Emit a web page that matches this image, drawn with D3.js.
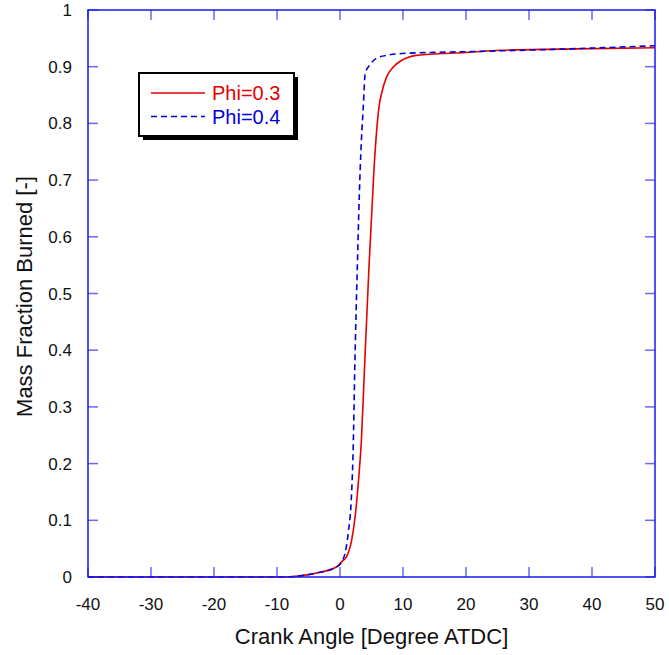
<!DOCTYPE html>
<html>
<head>
<meta charset="utf-8">
<script src="https://cdn.jsdelivr.net/npm/d3@7"></script>
<style>
    body { margin: 0; background: #fff; }
    text { font-family: "Liberation Sans", Arial, sans-serif; }
</style>
</head>
<body>
<div id="canvas"></div>
<script>
"use strict"

// DATA - values

let xTicks = [-40, -30, -20, -10, 0, 10, 20, 30, 40, 50];
let yTicks = [0, 0.1, 0.2, 0.3, 0.4, 0.5, 0.6, 0.7, 0.8, 0.9, 1];

let seriesNames = ["Phi=0.3", "Phi=0.4"];

// Phi=0.3 (red solid)
let phi03Angle = [-40, -10, -8, -6.3, -3.7, -0.5, 0.26, 1.05, 1.85, 2.4, 2.9, 3.4, 3.9, 4.6, 5.4, 5.8, 6.2, 6.6, 7.4, 8.5, 9.9, 12.1, 14.3, 20, 25.4, 35, 50];
let phi03Mfb = [0, 0, 0.0005, 0.002, 0.007, 0.018, 0.027, 0.036, 0.065, 0.106, 0.165, 0.242, 0.371, 0.547, 0.72, 0.785, 0.83, 0.853, 0.882, 0.9, 0.912, 0.92, 0.922, 0.925, 0.929, 0.931, 0.9335];

// Phi=0.4 (blue dashed)
let phi04Angle = [-40, -10, -8, -6.3, -3.7, -0.5, 0.3, 0.8, 1.3, 1.85, 2.1, 2.35, 2.75, 3.2, 3.4, 3.7, 4.0, 4.8, 5.8, 7.9, 11.1, 14.3, 25.7, 35, 50];
let phi04Mfb = [0, 0, 0.0005, 0.002, 0.007, 0.018, 0.027, 0.042, 0.077, 0.15, 0.23, 0.371, 0.547, 0.718, 0.771, 0.83, 0.888, 0.904, 0.915, 0.921, 0.924, 0.925, 0.928, 0.931, 0.937];


// CANVAS SETUP

let svgWidth = 669;
let svgHeight = 655;

let leftMargin = 88;
let rightMargin = 14;
let topMargin = 10;
let bottomMargin = 78; // plot area is 88..655 by 10..577

let tickLength = 10;

let svg = d3.select("#canvas")
    .append("svg")
    .attr("width", svgWidth)
    .attr("height", svgHeight);


// SCALES

let xScale = d3.scaleLinear()
    .domain([-40, 50])
    .range([leftMargin, svgWidth - rightMargin]);

let yScale = d3.scaleLinear()
    .domain([0, 1])
    .range([svgHeight - bottomMargin, topMargin]);

let x0 = xScale(-40), x1 = xScale(50);
let y0 = yScale(0), y1 = yScale(1);


// TICKS - drawn inward on all four sides

let tickColor = "#6a6af0";

let tickGroup = svg.append("g")
    .attr("stroke", tickColor)
    .attr("stroke-width", 1.5);

xTicks.forEach(function (t) {
    tickGroup.append("line") // bottom
        .attr("x1", xScale(t)).attr("x2", xScale(t))
        .attr("y1", y0).attr("y2", y0 - tickLength);
    tickGroup.append("line") // top
        .attr("x1", xScale(t)).attr("x2", xScale(t))
        .attr("y1", y1).attr("y2", y1 + tickLength);
});

yTicks.forEach(function (t) {
    tickGroup.append("line") // left
        .attr("x1", x0).attr("x2", x0 + tickLength)
        .attr("y1", yScale(t)).attr("y2", yScale(t));
    tickGroup.append("line") // right
        .attr("x1", x1).attr("x2", x1 - tickLength)
        .attr("y1", yScale(t)).attr("y2", yScale(t));
});


// TICK LABELS

xTicks.forEach(function (t) {
    svg.append("text")
        .attr("x", xScale(t))
        .attr("y", y0 + 33)
        .style("text-anchor", "middle")
        .style("font-size", "17px")
        .attr("fill", "#111")
        .text(t);
});

yTicks.forEach(function (t) {
    svg.append("text")
        .attr("x", x0 - 16)
        .attr("y", yScale(t) + 6)
        .style("text-anchor", "end")
        .style("font-size", "17px")
        .attr("fill", "#111")
        .text(t);
});


// AXIS LABELS

svg.append("text")
    .attr("x", (x0 + x1) / 2)
    .attr("y", svgHeight - 11)
    .style("text-anchor", "middle")
    .style("font-size", "22px")
    .attr("fill", "#111")
    .text("Crank Angle [Degree ATDC]");

svg.append("text")
    .attr("transform", "translate(32," + ((y0 + y1) / 2 + 3) + ") rotate(-90)")
    .style("text-anchor", "middle")
    .style("font-size", "22px")
    .attr("fill", "#111")
    .text("Mass Fraction Burned [-]");


// CURVES

let line = d3.line()
    .x(function (d) { return xScale(d[0]); })
    .y(function (d) { return yScale(d[1]); })
    .curve(d3.curveMonotoneX);

let phi03 = phi03Angle.map(function (a, i) { return [a, phi03Mfb[i]]; });
let phi04 = phi04Angle.map(function (a, i) { return [a, phi04Mfb[i]]; });

svg.append("path")
    .attr("d", line(phi03))
    .attr("fill", "none")
    .attr("stroke", "#e60000")
    .attr("stroke-width", 1.6);

svg.append("path")
    .attr("d", line(phi04))
    .attr("fill", "none")
    .attr("stroke", "#0000dd")
    .attr("stroke-width", 1.6)
    .attr("stroke-dasharray", "6 4");


// PLOT FRAME

svg.append("rect")
    .attr("x", x0)
    .attr("y", y1)
    .attr("width", x1 - x0)
    .attr("height", y0 - y1)
    .attr("fill", "none")
    .attr("stroke", "#1a1aee")
    .attr("stroke-width", 1.5);


// LEGEND

let legendX = 139, legendY = 73, legendW = 155, legendH = 63;

svg.append("rect") // shadow
    .attr("x", legendX + 4)
    .attr("y", legendY + 4)
    .attr("width", legendW)
    .attr("height", legendH)
    .attr("fill", "#000");

svg.append("rect")
    .attr("x", legendX)
    .attr("y", legendY)
    .attr("width", legendW)
    .attr("height", legendH)
    .attr("fill", "#fff")
    .attr("stroke", "#000")
    .attr("stroke-width", 2);

let legendColors = ["#e60000", "#0000dd"];
let legendDash = [null, "6 4"];

seriesNames.forEach(function (name, i) {
    let ly = legendY + 20 + i * 23.5;
    svg.append("line")
        .attr("x1", legendX + 12)
        .attr("x2", legendX + 66)
        .attr("y1", ly)
        .attr("y2", ly)
        .attr("stroke", legendColors[i])
        .attr("stroke-width", 1.3)
        .attr("stroke-dasharray", legendDash[i]);
    svg.append("text")
        .attr("x", legendX + 73)
        .attr("y", ly + 7)
        .style("font-size", "20px")
        .attr("fill", legendColors[i])
        .text(name);
});
</script>
</body>
</html>
